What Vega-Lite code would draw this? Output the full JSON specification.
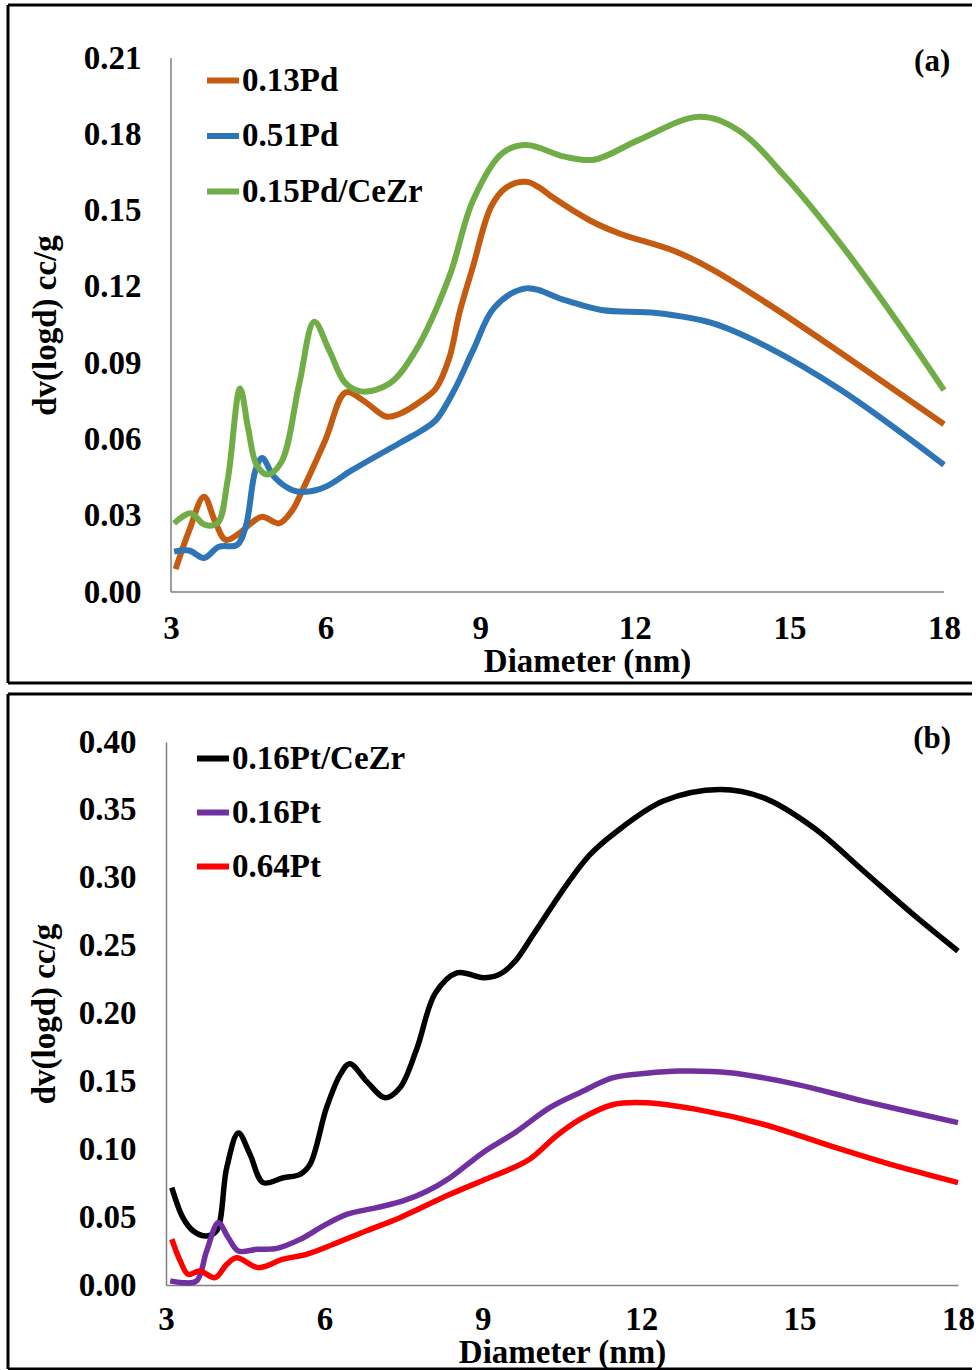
{
  "$schema": "https://vega.github.io/schema/vega-lite/v6.json",
  "padding": {"left": 6, "top": 3, "right": 0, "bottom": 0},
  "background": "white",
  "spacing": 7,
  "config": {
    "view": {"stroke": null},
    "font": "Liberation Serif",
    "axis": {"grid": false, "ticks": false, "labelFlush": false, "labelOverlap": false, "labelFont": "Liberation Serif", "labelFontSize": 33, "labelFontWeight": "bold", "labelColor": "black", "titleFont": "Liberation Serif", "titleFontSize": 33, "titleFontWeight": "bold", "titleColor": "black", "domainColor": "#7f7f7f", "domainWidth": 1.5},
    "legend": {"orient": "none", "title": null, "symbolType": "stroke", "symbolSize": 1024, "labelFont": "Liberation Serif", "labelFontSize": 33, "labelFontWeight": "bold", "labelColor": "black", "labelOffset": 0, "padding": 0, "labelLimit": 400}
  },
  "vconcat": [
    {
      "width": 778,
      "height": 534,
      "encoding": {
        "x": {"field": "x", "type": "quantitative", "scale": {"domain": [2.903, 18], "nice": false, "zero": false},
              "axis": {"values": [3, 6, 9, 12, 15, 18], "domain": false, "labelPadding": 20, "title": "Diameter (nm)", "titlePadding": 0, "titleX": 421}},
        "y": {"field": "y", "type": "quantitative", "scale": {"domain": [0, 0.21], "nice": false, "zero": false},
              "axis": {"values": [0, 0.03, 0.06, 0.09, 0.12, 0.15, 0.18, 0.21], "format": ".2f", "domain": false, "labelPadding": 25, "title": "dv(logd) cc/g", "titlePadding": 21}}
      },
      "layer": [
        {
          "data": {"values": [
            {"x": -0.163, "x2": 18.544, "y": 0.2308, "y2": 0.2308},
            {"x": -0.163, "x2": 18.544, "y": -0.0358, "y2": -0.0358},
            {"x": -0.163, "x2": -0.163, "y": -0.0358, "y2": 0.2308}
          ]},
          "mark": {"type": "rule", "color": "black", "strokeWidth": 3},
          "encoding": {"x2": {"field": "x2"}, "y2": {"field": "y2"}}
        },
        {
          "data": {"values": [
            {"x": 3, "x2": 18, "y": 0, "y2": 0},
            {"x": 3, "x2": 3, "y": 0, "y2": 0.21}
          ]},
          "mark": {"type": "rule", "color": "#7f7f7f", "strokeWidth": 1.5},
          "encoding": {"x2": {"field": "x2"}, "y2": {"field": "y2"}}
        },
        {
          "data": {"values": [
            {"s": "0.13Pd", "x": 3.09, "y": 0.009}, {"s": "0.13Pd", "x": 3.35, "y": 0.024}, {"s": "0.13Pd", "x": 3.64, "y": 0.0375}, {"s": "0.13Pd", "x": 3.85, "y": 0.028}, {"s": "0.13Pd", "x": 4.06, "y": 0.0205}, {"s": "0.13Pd", "x": 4.32, "y": 0.023}, {"s": "0.13Pd", "x": 4.55, "y": 0.027}, {"s": "0.13Pd", "x": 4.77, "y": 0.0296}, {"s": "0.13Pd", "x": 5.1, "y": 0.027}, {"s": "0.13Pd", "x": 5.35, "y": 0.032}, {"s": "0.13Pd", "x": 5.55, "y": 0.04}, {"s": "0.13Pd", "x": 6.0, "y": 0.06}, {"s": "0.13Pd", "x": 6.39, "y": 0.0785}, {"s": "0.13Pd", "x": 6.75, "y": 0.075}, {"s": "0.13Pd", "x": 7.17, "y": 0.069}, {"s": "0.13Pd", "x": 7.43, "y": 0.07}, {"s": "0.13Pd", "x": 7.88, "y": 0.0755}, {"s": "0.13Pd", "x": 8.14, "y": 0.08}, {"s": "0.13Pd", "x": 8.4, "y": 0.092}, {"s": "0.13Pd", "x": 8.6, "y": 0.11}, {"s": "0.13Pd", "x": 8.86, "y": 0.128}, {"s": "0.13Pd", "x": 9.21, "y": 0.1515}, {"s": "0.13Pd", "x": 9.5, "y": 0.159}, {"s": "0.13Pd", "x": 9.89, "y": 0.1613}, {"s": "0.13Pd", "x": 10.15, "y": 0.159}, {"s": "0.13Pd", "x": 10.42, "y": 0.155}, {"s": "0.13Pd", "x": 11.14, "y": 0.146}, {"s": "0.13Pd", "x": 11.7, "y": 0.141}, {"s": "0.13Pd", "x": 12.78, "y": 0.134}, {"s": "0.13Pd", "x": 13.49, "y": 0.127}, {"s": "0.13Pd", "x": 14.56, "y": 0.1136}, {"s": "0.13Pd", "x": 16.0, "y": 0.094}, {"s": "0.13Pd", "x": 18.0, "y": 0.066},
            {"s": "0.51Pd", "x": 3.06, "y": 0.0159}, {"s": "0.51Pd", "x": 3.35, "y": 0.0163}, {"s": "0.51Pd", "x": 3.64, "y": 0.0134}, {"s": "0.51Pd", "x": 3.93, "y": 0.0178}, {"s": "0.51Pd", "x": 4.28, "y": 0.0185}, {"s": "0.51Pd", "x": 4.45, "y": 0.0257}, {"s": "0.51Pd", "x": 4.64, "y": 0.048}, {"s": "0.51Pd", "x": 4.77, "y": 0.0527}, {"s": "0.51Pd", "x": 5.0, "y": 0.0453}, {"s": "0.51Pd", "x": 5.36, "y": 0.04}, {"s": "0.51Pd", "x": 5.62, "y": 0.0394}, {"s": "0.51Pd", "x": 6.0, "y": 0.0414}, {"s": "0.51Pd", "x": 6.52, "y": 0.048}, {"s": "0.51Pd", "x": 7.43, "y": 0.0585}, {"s": "0.51Pd", "x": 7.88, "y": 0.0637}, {"s": "0.51Pd", "x": 8.14, "y": 0.0676}, {"s": "0.51Pd", "x": 8.5, "y": 0.0795}, {"s": "0.51Pd", "x": 8.86, "y": 0.095}, {"s": "0.51Pd", "x": 9.28, "y": 0.112}, {"s": "0.51Pd", "x": 9.89, "y": 0.1194}, {"s": "0.51Pd", "x": 10.64, "y": 0.1148}, {"s": "0.51Pd", "x": 11.35, "y": 0.1109}, {"s": "0.51Pd", "x": 12.42, "y": 0.1097}, {"s": "0.51Pd", "x": 13.49, "y": 0.1058}, {"s": "0.51Pd", "x": 14.56, "y": 0.0965}, {"s": "0.51Pd", "x": 16.0, "y": 0.0794}, {"s": "0.51Pd", "x": 18.0, "y": 0.05},
            {"s": "0.15Pd/CeZr", "x": 3.06, "y": 0.027}, {"s": "0.15Pd/CeZr", "x": 3.38, "y": 0.031}, {"s": "0.15Pd/CeZr", "x": 3.65, "y": 0.0265}, {"s": "0.15Pd/CeZr", "x": 3.9, "y": 0.027}, {"s": "0.15Pd/CeZr", "x": 4.1, "y": 0.044}, {"s": "0.15Pd/CeZr", "x": 4.34, "y": 0.08}, {"s": "0.15Pd/CeZr", "x": 4.5, "y": 0.064}, {"s": "0.15Pd/CeZr", "x": 4.66, "y": 0.05}, {"s": "0.15Pd/CeZr", "x": 4.87, "y": 0.0462}, {"s": "0.15Pd/CeZr", "x": 5.14, "y": 0.051}, {"s": "0.15Pd/CeZr", "x": 5.49, "y": 0.082}, {"s": "0.15Pd/CeZr", "x": 5.78, "y": 0.1063}, {"s": "0.15Pd/CeZr", "x": 6.07, "y": 0.095}, {"s": "0.15Pd/CeZr", "x": 6.39, "y": 0.082}, {"s": "0.15Pd/CeZr", "x": 6.71, "y": 0.0788}, {"s": "0.15Pd/CeZr", "x": 7.24, "y": 0.082}, {"s": "0.15Pd/CeZr", "x": 7.75, "y": 0.095}, {"s": "0.15Pd/CeZr", "x": 8.4, "y": 0.124}, {"s": "0.15Pd/CeZr", "x": 8.86, "y": 0.154}, {"s": "0.15Pd/CeZr", "x": 9.43, "y": 0.1726}, {"s": "0.15Pd/CeZr", "x": 9.89, "y": 0.1758}, {"s": "0.15Pd/CeZr", "x": 10.64, "y": 0.1712}, {"s": "0.15Pd/CeZr", "x": 11.21, "y": 0.17}, {"s": "0.15Pd/CeZr", "x": 12.07, "y": 0.1777}, {"s": "0.15Pd/CeZr", "x": 13.25, "y": 0.1869}, {"s": "0.15Pd/CeZr", "x": 14.0, "y": 0.1817}, {"s": "0.15Pd/CeZr", "x": 14.92, "y": 0.1633}, {"s": "0.15Pd/CeZr", "x": 15.99, "y": 0.137}, {"s": "0.15Pd/CeZr", "x": 17.07, "y": 0.107}, {"s": "0.15Pd/CeZr", "x": 18.0, "y": 0.0794}
          ]},
          "mark": {"type": "line", "interpolate": "catmull-rom", "strokeWidth": 6},
          "encoding": {
            "color": {"field": "s", "type": "nominal", "scale": {"domain": ["0.13Pd", "0.51Pd", "0.15Pd/CeZr"], "range": ["#C55A11", "#2E75B6", "#70AD47"]},
                      "legend": {"legendX": 38, "legendY": 3.5, "rowPadding": 19.5, "symbolStrokeWidth": 6}}
          }
        },
        {
          "data": {"values": [{"x": 17.77, "y": 0.2084, "t": "(a)"}]},
          "mark": {"type": "text", "font": "Liberation Serif", "fontSize": 31, "fontWeight": "bold", "color": "black"},
          "encoding": {"text": {"field": "t"}}
        }
      ]
    },
    {
      "width": 792,
      "height": 543,
      "encoding": {
        "x": {"field": "x", "type": "quantitative", "scale": {"domain": [3, 18], "nice": false, "zero": false},
              "axis": {"values": [3, 6, 9, 12, 15, 18], "labelPadding": 18, "title": "Diameter (nm)", "titlePadding": 0}},
        "y": {"field": "y", "type": "quantitative", "scale": {"domain": [0, 0.4], "nice": false, "zero": false},
              "axis": {"values": [0, 0.05, 0.1, 0.15, 0.2, 0.25, 0.3, 0.35, 0.4], "format": ".2f", "labelPadding": 30, "title": "dv(logd) cc/g", "titlePadding": 17}}
      },
      "layer": [
        {
          "data": {"values": [
            {"x": 0.0076, "x2": 18.265, "y": 0.4354, "y2": 0.4354},
            {"x": 0.0076, "x2": 18.265, "y": -0.0619, "y2": -0.0619},
            {"x": 0.0076, "x2": 0.0076, "y": -0.0619, "y2": 0.4354}
          ]},
          "mark": {"type": "rule", "color": "black", "strokeWidth": 3},
          "encoding": {"x2": {"field": "x2"}, "y2": {"field": "y2"}}
        },
        {
          "data": {"values": [
            {"s": "0.16Pt/CeZr", "x": 3.11, "y": 0.0717}, {"s": "0.16Pt/CeZr", "x": 3.32, "y": 0.0496}, {"s": "0.16Pt/CeZr", "x": 3.51, "y": 0.04}, {"s": "0.16Pt/CeZr", "x": 3.77, "y": 0.0361}, {"s": "0.16Pt/CeZr", "x": 3.96, "y": 0.04}, {"s": "0.16Pt/CeZr", "x": 4.15, "y": 0.0864}, {"s": "0.16Pt/CeZr", "x": 4.37, "y": 0.112}, {"s": "0.16Pt/CeZr", "x": 4.59, "y": 0.0963}, {"s": "0.16Pt/CeZr", "x": 4.84, "y": 0.0754}, {"s": "0.16Pt/CeZr", "x": 5.22, "y": 0.079}, {"s": "0.16Pt/CeZr", "x": 5.54, "y": 0.0815}, {"s": "0.16Pt/CeZr", "x": 5.73, "y": 0.089}, {"s": "0.16Pt/CeZr", "x": 6.04, "y": 0.1306}, {"s": "0.16Pt/CeZr", "x": 6.3, "y": 0.155}, {"s": "0.16Pt/CeZr", "x": 6.48, "y": 0.163}, {"s": "0.16Pt/CeZr", "x": 6.8, "y": 0.15}, {"s": "0.16Pt/CeZr", "x": 7.15, "y": 0.138}, {"s": "0.16Pt/CeZr", "x": 7.43, "y": 0.1453}, {"s": "0.16Pt/CeZr", "x": 7.75, "y": 0.174}, {"s": "0.16Pt/CeZr", "x": 8.1, "y": 0.215}, {"s": "0.16Pt/CeZr", "x": 8.51, "y": 0.23}, {"s": "0.16Pt/CeZr", "x": 9.01, "y": 0.2264}, {"s": "0.16Pt/CeZr", "x": 9.3, "y": 0.2285}, {"s": "0.16Pt/CeZr", "x": 9.6, "y": 0.238}, {"s": "0.16Pt/CeZr", "x": 9.96, "y": 0.2584}, {"s": "0.16Pt/CeZr", "x": 10.59, "y": 0.295}, {"s": "0.16Pt/CeZr", "x": 11.03, "y": 0.317}, {"s": "0.16Pt/CeZr", "x": 11.5, "y": 0.333}, {"s": "0.16Pt/CeZr", "x": 12.42, "y": 0.3565}, {"s": "0.16Pt/CeZr", "x": 13.49, "y": 0.365}, {"s": "0.16Pt/CeZr", "x": 14.31, "y": 0.359}, {"s": "0.16Pt/CeZr", "x": 15.26, "y": 0.337}, {"s": "0.16Pt/CeZr", "x": 16.21, "y": 0.305}, {"s": "0.16Pt/CeZr", "x": 17.15, "y": 0.273}, {"s": "0.16Pt/CeZr", "x": 18.0, "y": 0.246},
            {"s": "0.16Pt", "x": 3.08, "y": 0.003}, {"s": "0.16Pt", "x": 3.32, "y": 0.0017}, {"s": "0.16Pt", "x": 3.58, "y": 0.003}, {"s": "0.16Pt", "x": 3.77, "y": 0.025}, {"s": "0.16Pt", "x": 3.99, "y": 0.0459}, {"s": "0.16Pt", "x": 4.18, "y": 0.0348}, {"s": "0.16Pt", "x": 4.37, "y": 0.025}, {"s": "0.16Pt", "x": 4.72, "y": 0.0263}, {"s": "0.16Pt", "x": 5.1, "y": 0.027}, {"s": "0.16Pt", "x": 5.54, "y": 0.0336}, {"s": "0.16Pt", "x": 5.98, "y": 0.0435}, {"s": "0.16Pt", "x": 6.42, "y": 0.052}, {"s": "0.16Pt", "x": 6.99, "y": 0.057}, {"s": "0.16Pt", "x": 7.49, "y": 0.0619}, {"s": "0.16Pt", "x": 7.94, "y": 0.069}, {"s": "0.16Pt", "x": 8.38, "y": 0.079}, {"s": "0.16Pt", "x": 9.0, "y": 0.0975}, {"s": "0.16Pt", "x": 9.6, "y": 0.112}, {"s": "0.16Pt", "x": 10.27, "y": 0.1306}, {"s": "0.16Pt", "x": 10.84, "y": 0.1417}, {"s": "0.16Pt", "x": 11.47, "y": 0.1527}, {"s": "0.16Pt", "x": 12.1, "y": 0.156}, {"s": "0.16Pt", "x": 12.73, "y": 0.1576}, {"s": "0.16Pt", "x": 13.68, "y": 0.1564}, {"s": "0.16Pt", "x": 14.94, "y": 0.1478}, {"s": "0.16Pt", "x": 16.21, "y": 0.1355}, {"s": "0.16Pt", "x": 18.0, "y": 0.1196},
            {"s": "0.64Pt", "x": 3.11, "y": 0.0337}, {"s": "0.64Pt", "x": 3.27, "y": 0.0177}, {"s": "0.64Pt", "x": 3.42, "y": 0.0079}, {"s": "0.64Pt", "x": 3.64, "y": 0.0103}, {"s": "0.64Pt", "x": 3.93, "y": 0.0054}, {"s": "0.64Pt", "x": 4.15, "y": 0.0152}, {"s": "0.64Pt", "x": 4.34, "y": 0.02}, {"s": "0.64Pt", "x": 4.75, "y": 0.0128}, {"s": "0.64Pt", "x": 5.22, "y": 0.019}, {"s": "0.64Pt", "x": 5.66, "y": 0.0226}, {"s": "0.64Pt", "x": 6.17, "y": 0.03}, {"s": "0.64Pt", "x": 6.8, "y": 0.04}, {"s": "0.64Pt", "x": 7.43, "y": 0.0496}, {"s": "0.64Pt", "x": 8.38, "y": 0.0668}, {"s": "0.64Pt", "x": 9.0, "y": 0.077}, {"s": "0.64Pt", "x": 9.5, "y": 0.085}, {"s": "0.64Pt", "x": 9.9, "y": 0.093}, {"s": "0.64Pt", "x": 10.4, "y": 0.11}, {"s": "0.64Pt", "x": 10.84, "y": 0.122}, {"s": "0.64Pt", "x": 11.47, "y": 0.133}, {"s": "0.64Pt", "x": 12.1, "y": 0.1343}, {"s": "0.64Pt", "x": 13.05, "y": 0.1294}, {"s": "0.64Pt", "x": 14.31, "y": 0.1184}, {"s": "0.64Pt", "x": 15.58, "y": 0.1025}, {"s": "0.64Pt", "x": 16.84, "y": 0.0875}, {"s": "0.64Pt", "x": 18.0, "y": 0.0754}
          ]},
          "mark": {"type": "line", "interpolate": "catmull-rom", "strokeWidth": 5.5},
          "encoding": {
            "color": {"field": "s", "type": "nominal", "scale": {"domain": ["0.16Pt/CeZr", "0.16Pt", "0.64Pt"], "range": ["#000000", "#7030A0", "#FF0000"]},
                      "legend": {"legendX": 28, "legendY": -2.5, "rowPadding": 18, "symbolStrokeWidth": 6}}
          }
        },
        {
          "data": {"values": [{"x": 17.51, "y": 0.4022, "t": "(b)"}]},
          "mark": {"type": "text", "font": "Liberation Serif", "fontSize": 31, "fontWeight": "bold", "color": "black"},
          "encoding": {"text": {"field": "t"}}
        }
      ],
      "resolve": {"scale": {"color": "independent"}}
    }
  ],
  "resolve": {"scale": {"color": "independent"}, "legend": {"color": "independent"}}
}
